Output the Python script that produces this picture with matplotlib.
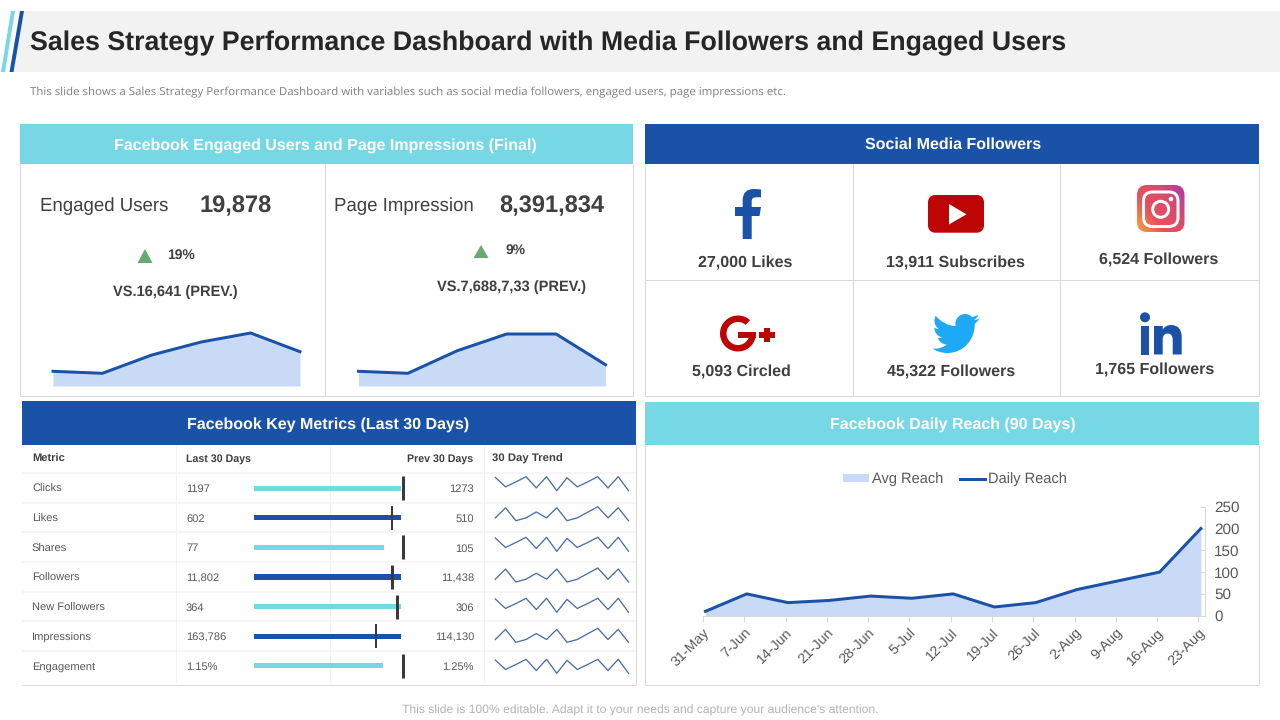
"""
Sales strategy dashboard slide: title band, KPI cards, social counts,
key metrics table with bullet bars and sparklines, daily reach chart.
"""
import numpy as np
import matplotlib
matplotlib.use('Agg')
import matplotlib.pyplot as plt
from matplotlib.path import Path
from matplotlib.patches import Circle, FancyBboxPatch, PathPatch, Polygon, Rectangle, Wedge

plt.rcParams['font.family'] = ['Liberation Sans', 'DejaVu Sans']
plt.rcParams['text.hinting'] = 'none'

# colours
BLUE = '#1a52a8'
CYAN = '#76d8e4'
FILL = '#c9daf6'
TEXT = '#404040'
GREY = '#595959'
BORDER = '#d9d9d9'
RED = '#bd0505'

# KPI sparkline areas
ENGAGED_TREND = [14.7, 12.7, 31, 44, 53, 34.3]
IMPRESSION_TREND = [14.7, 12.7, 35.3, 52, 52, 21.3]

# social media counts
SOCIAL_LABELS = ['27,000 Likes', '13,911 Subscribes', '6,524 Followers',
                 '5,093 Circled', '45,322 Followers', '1,765 Followers']

# key metrics table
METRICS = ['Clicks', 'Likes', 'Shares', 'Followers', 'New Followers', 'Impressions', 'Engagement']
LAST_30 = ['1197', '602', '77', '11,802', '364', '163,786', '1.15%']
PREV_30 = ['1273', '510', '105', '11,438', '306', '114,130', '1.25%']
# bullet bars, percent of the bar track
BAR_PCT = [100, 100, 88.3, 100, 100, 100, 87.8]
TARGET_PCT = [101.7, 93.6, 101.7, 94.2, 97, 82.8, 101.7]
TARGET_WIDTH = [3, 2, 3, 3, 3, 2, 3]

# the two sparkline shapes of the table
TREND_A = [38, 11, 25, 40, 8, 40, 0, 37, 11, 25, 40, 8, 40, 0]
TREND_B = [8, 37, 0, 8, 25, 8, 37, 0, 8, 24, 40, 8, 37, 0]

# daily reach chart
REACH_DATES = ['31-May', '7-Jun', '14-Jun', '21-Jun', '28-Jun', '5-Jul', '12-Jul',
               '19-Jul', '26-Jul', '2-Aug', '9-Aug', '16-Aug', '23-Aug']
REACH = [10, 50, 30, 35, 45, 40, 50, 20, 30, 60, 80, 100, 200]
REACH_TICKS = [0, 50, 100, 150, 200, 250]

fig = plt.figure(figsize=(12.8, 7.2), dpi=100, facecolor='white')


def px_axes(x0, y0, x1, y1):
    # axes placed by slide pixels, y counted from the top
    ax = fig.add_axes([x0 / 1280, 1 - y1 / 720, (x1 - x0) / 1280, (y1 - y0) / 720])
    ax.patch.set_alpha(0)
    return ax


def px(n):
    # pixels to points
    return n * 0.72


# slide background in pixel coordinates
bg = px_axes(0, 0, 1280, 720)
bg.set_xlim(0, 1280)
bg.set_ylim(720, 0)
bg.axis('off')


def label(x, y, s, size=10, color=TEXT, weight='normal', ha='center', **kw):
    # va center sits a little high, push it down with the font size
    bg.text(x, y + 1 + size * 0.1, s, fontsize=size, color=color, fontweight=weight, ha=ha, va='center', **kw)


def box(x0, y0, x1, y1, color, **kw):
    bg.add_patch(Rectangle((x0, y0), x1 - x0, y1 - y0, facecolor=color, edgecolor='none', **kw))


def hline(x0, x1, y, color=BORDER, lw=1.0):
    bg.plot([x0, x1], [y, y], color=color, lw=px(lw), solid_capstyle='butt')


def vline(x, y0, y1, color=BORDER, lw=1.0):
    bg.plot([x, x], [y0, y1], color=color, lw=px(lw), solid_capstyle='butt')


# title band
bg.add_patch(Polygon([(24, 11), (1280, 11), (1280, 72), (13, 72)], facecolor='#f2f2f2', edgecolor='none'))
bg.add_patch(Polygon([(11, 11), (15, 11), (5, 72), (1, 72)], facecolor=CYAN, edgecolor='none'))
bg.add_patch(Polygon([(20, 11), (24, 11), (13.5, 72), (9.5, 72)], facecolor=BLUE, edgecolor='none'))
label(30, 40.5, 'Sales Strategy Performance Dashboard with Media Followers and Engaged Users',
      size=19.25, color='#262626', weight='bold', ha='left')
label(30, 91, 'This slide shows a Sales Strategy Performance Dashboard with variables such as '
      'social media followers, engaged users, page impressions etc.',
      size=8.27, color='#7f7f7f', ha='left', family=['Open Sans', 'DejaVu Sans'])

# section headers
box(20, 124, 633, 164, CYAN)
box(645, 124, 1259, 164, BLUE)
box(22, 401, 636, 445, BLUE)
box(645, 402, 1259, 445, CYAN)
label(325.5, 143, 'Facebook Engaged Users and Page Impressions (Final)', size=11.55, color='white', weight='bold')
label(953, 143, 'Social Media Followers', size=11.55, color='white', weight='bold')
label(328, 422, 'Facebook Key Metrics (Last 30 Days)', size=11.55, color='white', weight='bold')
label(953, 422, 'Facebook Daily Reach (90 Days)', size=11.55, color='white', weight='bold')

# panel borders
vline(20, 164, 396)
vline(325, 164, 396)
vline(633, 164, 396)
hline(20, 633, 396)
for x in (645, 853, 1060, 1259):
    vline(x, 164, 396)
hline(645, 1259, 280)
hline(645, 1259, 396)
vline(645, 445, 685)
vline(1259, 445, 685)
hline(645, 1259, 685)
vline(636, 445, 685)
hline(22, 636, 685)

# KPI cards
label(40, 203.5, 'Engaged Users', size=13.4, ha='left')
label(236, 203.5, '19,878', size=17, weight='bold')
label(334, 203.5, 'Page Impression', size=13.4, ha='left')
label(551.5, 203.5, '8,391,834', size=17, weight='bold')
bg.add_patch(Polygon([(137.5, 263), (152.5, 263), (145, 249)], facecolor='#67a874', edgecolor='none'))
bg.add_patch(Polygon([(473.5, 258), (488.5, 258), (481, 245)], facecolor='#67a874', edgecolor='none'))
label(181, 253, '19%', size=10, weight='bold')
label(516, 248, '9%', size=10, weight='bold')
label(175, 290, 'VS.16,641 (PREV.)', size=10.5, weight='bold')
label(511.5, 285, 'VS.7,688,7,33 (PREV.)', size=10.5, weight='bold')

for (x0, x1), trend in zip([(53, 300), (358.5, 605.5)], [ENGAGED_TREND, IMPRESSION_TREND]):
    ax = px_axes(x0, 326, x1, 386)
    ax.fill_between(range(len(trend)), trend, color=FILL, lw=0)
    ax.plot(range(len(trend)), trend, color=BLUE, lw=px(3), clip_on=False)
    ax.set_xlim(0, len(trend) - 1)
    ax.set_ylim(0, 60)
    ax.axis('off')

# social media counts
label_pos = [(745, 261), (955.5, 261), (1158.5, 258), (741, 370), (951.5, 370), (1155, 368)]
for (x, y), s in zip(label_pos, SOCIAL_LABELS):
    label(x, y, s, size=11.55, weight='bold')

# facebook
fb_f = Path([(742.7, 239), (751.7, 239), (751.7, 216), (759.5, 216), (761, 207), (751.7, 207),
             (751.7, 201), (751.7, 197.3), (756, 197.3), (761, 197.3), (761, 189.5),
             (757, 189), (754, 189), (742.7, 189), (742.7, 200), (742.7, 207), (735, 207),
             (735, 216), (742.7, 216), (742.7, 239)],
            [Path.MOVETO, Path.LINETO, Path.LINETO, Path.LINETO, Path.LINETO, Path.LINETO,
             Path.LINETO, Path.CURVE3, Path.CURVE3, Path.LINETO, Path.LINETO,
             Path.CURVE3, Path.CURVE3, Path.CURVE3, Path.CURVE3, Path.LINETO, Path.LINETO,
             Path.LINETO, Path.LINETO, Path.CLOSEPOLY])
bg.add_patch(PathPatch(fb_f, facecolor=BLUE, edgecolor='none'))

# youtube
bg.add_patch(FancyBboxPatch((934, 201), 44, 25.7, boxstyle='round,pad=0,rounding_size=1', facecolor=RED,
                            edgecolor=RED, lw=px(12), joinstyle='round'))
bg.add_patch(Polygon([(949, 204), (949, 224.5), (966.5, 214.3)], facecolor='white', edgecolor='none'))

# instagram, gradient clipped to a rounded square
ygrid, xgrid = np.mgrid[0:1:80j, 0:1:80j]
grad = xgrid * 0.6 + (1 - ygrid) * 0.4
cmap = matplotlib.colors.LinearSegmentedColormap.from_list('insta', ['#f9a53c', '#e6505f', '#dc4a6c', '#a53ab0'])
insta_box = FancyBboxPatch((1137, 185), 47.5, 47, boxstyle='round,pad=0,rounding_size=10',
                           facecolor='none', edgecolor='none')
bg.add_patch(insta_box)
im = bg.imshow(grad, cmap=cmap, extent=(1137, 1184.5, 232, 185), aspect='auto', zorder=2)
im.set_clip_path(insta_box)
bg.set_xlim(0, 1280)
bg.set_ylim(720, 0)
bg.add_patch(FancyBboxPatch((1143.5, 192), 34.5, 34.5, boxstyle='round,pad=0,rounding_size=9',
                            facecolor='none', edgecolor='white', lw=px(3), zorder=3))
bg.add_patch(Circle((1160.7, 209.3), 8, facecolor='none', edgecolor='white', lw=px(3), zorder=3))
bg.add_patch(Circle((1171, 199), 2.3, facecolor='white', edgecolor='none', zorder=3))

# google plus
bg.add_patch(Wedge((738, 333.5), 18, 0, 312, width=6.5, facecolor=RED, edgecolor='none'))
box(738, 332, 756, 338, RED)
box(759, 332, 775, 337.5, RED)
box(764, 328, 770, 341.5, RED)

# twitter bird, drawn in a 24 unit box
BIRD = [(22.46, 6), (21.69, 6.35), (20.86, 6.58), (20, 6.69), (20.88, 6.16), (21.56, 5.32), (21.88, 4.31),
        (21.05, 4.81), (20.13, 5.16), (19.16, 5.36), (18.37, 4.5), (17.26, 4), (16, 4), (13.65, 4),
        (11.73, 5.92), (11.73, 8.29), (11.73, 8.63), (11.77, 8.96), (11.84, 9.27), (8.28, 9.09),
        (5.11, 7.38), (3, 4.79), (2.63, 5.42), (2.42, 6.16), (2.42, 6.94), (2.42, 8.43), (3.17, 9.75),
        (4.33, 10.5), (3.62, 10.5), (2.96, 10.3), (2.38, 10), (2.38, 10), (2.38, 10), (2.38, 10.03),
        (2.38, 12.11), (3.86, 13.85), (5.82, 14.24), (5.46, 14.34), (5.08, 14.39), (4.69, 14.39),
        (4.42, 14.39), (4.15, 14.36), (3.89, 14.31), (4.43, 16), (6, 17.26), (7.89, 17.29), (6.43, 18.45),
        (4.58, 19.13), (2.56, 19.13), (2.22, 19.13), (1.88, 19.11), (1.54, 19.07), (3.44, 20.29),
        (5.7, 21), (8.12, 21), (16, 21), (20.33, 14.46), (20.33, 8.79), (20.33, 8.6), (20.33, 8.42),
        (20.32, 8.23), (21.16, 7.63), (21.88, 6.87), (22.46, 6)]
bird_xy = [(932.5 + (x - 1.54) * 47 / 20.92, 314 + (y - 4) * 39 / 17) for x, y in BIRD]
bird_codes = [Path.MOVETO] + [Path.CURVE4] * (len(bird_xy) - 1)
bg.add_patch(PathPatch(Path(bird_xy, bird_codes), facecolor='#1da9f5', edgecolor='none'))

# linkedin
bg.add_patch(Circle((1145, 317.3), 5, facecolor=BLUE, edgecolor='none'))
box(1140.7, 326, 1149.3, 354.5, BLUE)
li_n = Path([(1154, 354.5), (1162.7, 354.5), (1162.7, 340), (1162.7, 333.5), (1167.5, 333.5),
             (1172.7, 333.5), (1172.7, 340), (1172.7, 354.5), (1181.7, 354.5), (1181.7, 337),
             (1181.7, 325), (1171, 325), (1165.5, 325), (1162.7, 329.5), (1162.7, 326), (1154, 326),
             (1154, 354.5)],
            [Path.MOVETO, Path.LINETO, Path.LINETO, Path.CURVE3, Path.CURVE3, Path.CURVE3, Path.CURVE3,
             Path.LINETO, Path.LINETO, Path.LINETO, Path.CURVE3, Path.CURVE3, Path.CURVE3, Path.CURVE3,
             Path.LINETO, Path.LINETO, Path.CLOSEPOLY])
bg.add_patch(PathPatch(li_n, facecolor=BLUE, edgecolor='none'))

# key metrics table
ROW_Y = np.linspace(488, 666, len(METRICS))
for y in ROW_Y:
    hline(22, 636, y - 15, color='#f2f2f2', lw=1.5)
for x in (176, 330, 484):
    vline(x, 445, 682, color='#f2f2f2')

label(32, 457, 'Metric', size=8, weight='bold', ha='left')
label(186, 457, 'Last 30 Days', size=7.7, weight='bold', ha='left')
label(473, 457, 'Prev 30 Days', size=7.7, weight='bold', ha='right')
label(492, 457, '30 Day Trend', size=8.2, weight='bold', ha='left')
for y, metric, last, prev in zip(ROW_Y, METRICS, LAST_30, PREV_30):
    label(32, y - 0.5, metric, size=8, color=GREY, ha='left')
    label(186, y - 0.5, last, size=8, color=GREY, ha='left')
    label(474, y - 0.5, prev, size=8, color=GREY, ha='right')

# bullet bars
bullet = px_axes(254, 473.2, 401, 680.8)
rows = np.arange(len(METRICS))
bar_colors = [CYAN if i % 2 == 0 else BLUE for i in rows]
bullet.barh(rows, BAR_PCT, height=0.17, color=bar_colors)
for i, (target, width) in enumerate(zip(TARGET_PCT, TARGET_WIDTH)):
    bullet.plot([target, target], [i - 0.4, i + 0.4], color='#3a3a3a', lw=px(width),
                solid_capstyle='butt', clip_on=False)
bullet.set_xlim(0, 100)
bullet.set_ylim(6.5, -0.5)
bullet.axis('off')

# sparklines
SPARK_TOP = [476.7, 506.7, 537.3, 568, 598.3, 628.3, 659.3]
for i, top in enumerate(SPARK_TOP):
    trend = TREND_A if i % 2 == 0 else TREND_B
    spark = px_axes(495.3, top, 628.5, top + 14)
    spark.plot(range(len(trend)), trend, color='#4a6cab', lw=px(1.3), clip_on=False)
    spark.set_xlim(0, len(trend) - 1)
    spark.set_ylim(0, 40)
    spark.axis('off')

# daily reach chart
reach = px_axes(703, 506.7, 1205, 615.7)
x = np.arange(len(REACH))
reach.fill_between(x, REACH, color=FILL, lw=0, label='Avg Reach')
reach.plot(x, REACH, color=BLUE, lw=px(3), label='Daily Reach')
reach.set_xlim(-0.06, 12.1)
reach.set_ylim(0, 250)
reach.yaxis.tick_right()
reach.set_yticks(REACH_TICKS)
reach.set_xticks(x - 0.06)
reach.set_xticklabels(REACH_DATES, rotation=45, ha='right', rotation_mode='anchor')
reach.tick_params(axis='x', length=px(6), width=px(1), color=BORDER, labelcolor=GREY, labelsize=10.3, pad=3)
reach.tick_params(axis='y', direction='in', length=px(5), width=px(1), color=BORDER, labelcolor=GREY,
                  labelsize=11, pad=6.5)
for side in ('top', 'left'):
    reach.spines[side].set_visible(False)
for side in ('bottom', 'right'):
    reach.spines[side].set_color(BORDER)
    reach.spines[side].set_linewidth(px(1))
reach.legend(loc='center', bbox_to_anchor=(955 / 1280, 1 - 479.5 / 720), bbox_transform=fig.transFigure,
             ncol=2, frameon=False, fontsize=10.5, labelcolor=GREY, handlelength=1.75, handleheight=0.5,
             handletextpad=0.2, columnspacing=1.15)

label(640, 708.5, "This slide is 100% editable. Adapt it to your needs and capture your audience's attention.",
      size=8.7, color='#b3b3b3')

plt.savefig('out.png', dpi=100)
